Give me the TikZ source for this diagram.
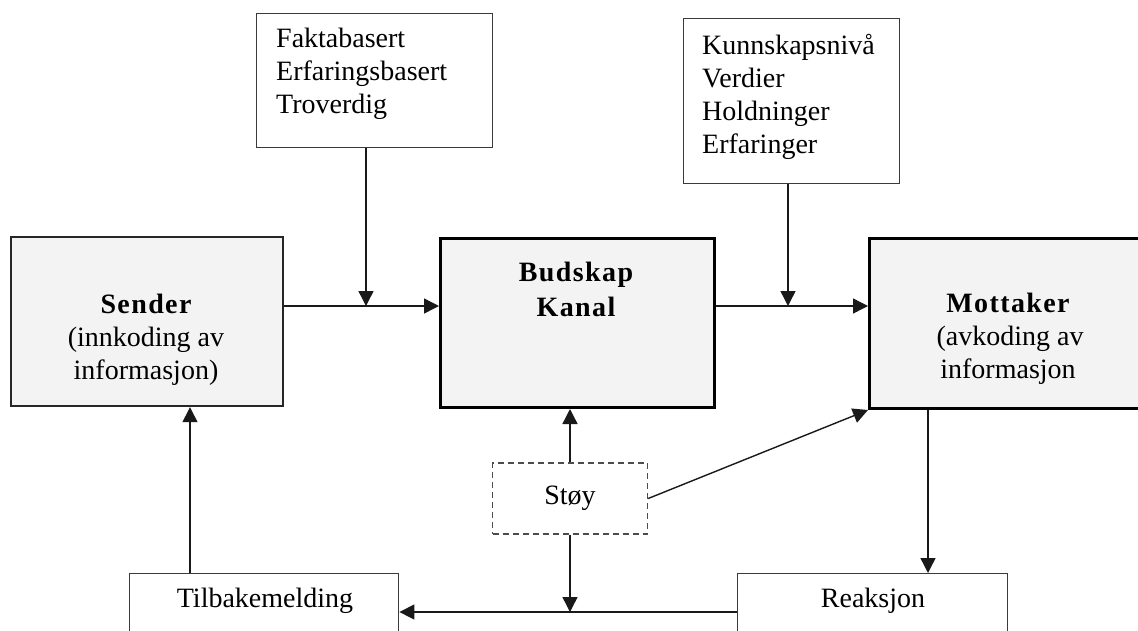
\documentclass[tikz,border=0pt]{standalone}
\usepackage{fontspec}
\setmainfont{Liberation Serif}
\newfontfamily\bsp[LetterSpace=5]{Liberation Serif Bold}
\usetikzlibrary{arrows.meta}
\definecolor{boxfill}{HTML}{F3F3F3}
\definecolor{lightborder}{HTML}{3A3A3A}
\tikzset{
  basebox/.style={rectangle, anchor=north west, inner sep=0pt},
  mainbox/.style={basebox, draw=black, fill=boxfill, line width=3pt},
  sendbox/.style={basebox, draw=black!85, fill=boxfill, line width=2.2pt},
  infobox/.style={basebox, draw=lightborder, fill=white, line width=1.4pt},
  noisebox/.style={rectangle, draw=black!70, dashed, dash pattern=on 6pt off 4pt, line width=1.4pt, fill=white, inner sep=0pt},
  txt/.style={font=\fontsize{28}{33}\selectfont, inner sep=0pt},
  btxt/.style={font=\fontsize{28}{35}\bsp, inner sep=0pt, align=center},
  conn/.style={draw=black!90, line width=1.4pt},
  arr/.style={conn, -{Triangle[length=15pt,width=15pt]}},
}
\begin{document}
\begin{tikzpicture}[x=1pt,y=-1pt]
\useasboundingbox (0,0) rectangle (1138,630);
% boxes
\node[sendbox, minimum width=272pt, minimum height=169pt] (sender) at (10,236) {};
\node[mainbox, minimum width=274pt, minimum height=169pt] (budskap) at (439,237) {};
\node[mainbox, minimum width=280pt, minimum height=170pt] (mottaker) at (868,237) {};
\node[infobox, minimum width=236pt, minimum height=134pt] (fakta) at (256,13) {};
\node[infobox, minimum width=216pt, minimum height=165pt] (kunn) at (683,18) {};
\node[noisebox, minimum width=155pt, minimum height=71pt, txt] (stoy) at (570,498.5) {Støy};
\node[infobox, minimum width=269pt, minimum height=80pt] (tilb) at (129,573) {};
\node[infobox, minimum width=270pt, minimum height=80pt] (reak) at (737,573) {};
% texts
\node[txt, align=center] (sendertxt) at (146,340) {{\fontsize{28}{33}\bsp Sender}\\(innkoding av\\informasjon)};
\node[btxt] (budskaptxt) at (576,289) {Budskap\\Kanal};
\node[txt, align=center] (mottakertxt) at (1008,339) {{\fontsize{28}{33}\bsp Mottaker}\\\hspace*{4pt}(avkoding av\\informasjon};
\node[txt, align=left, anchor=west] (faktatxt) at (276,74) {Faktabasert\\Erfaringsbasert\\Troverdig};
\node[txt, align=left, anchor=west] (kunntxt) at (702,97) {Kunnskapsnivå\\Verdier\\Holdninger\\Erfaringer};
\node[txt] (tilbtxt) at (265,601) {Tilbakemelding};
\node[txt] (reaktxt) at (873,601) {Reaksjon};
% junction coordinates
\coordinate (j1) at (366,306);
\coordinate (j2) at (788,306);
\coordinate (j3) at (570,612);
\coordinate (m1) at (928,0);
\coordinate (t1) at (190,0);
% connectors
\draw[arr] (sender.east |- j1) -- (budskap.west |- j1);
\draw[arr] (j1 |- fakta.south) -- (j1);
\draw[arr] (budskap.east |- j2) -- (mottaker.west |- j2);
\draw[arr] (j2 |- kunn.south) -- (j2);
\draw[arr] (stoy.north) -- (stoy.north |- budskap.south);
\draw[arr] (stoy.east) -- (mottaker.south west);
\draw[arr] (stoy.south) -- (j3);
\draw[arr] (reak.west |- j3) -- (tilb.east |- j3);
\draw[arr] (m1 |- mottaker.south) -- (m1 |- reak.north);
\draw[arr] (t1 |- tilb.north) -- (t1 |- sender.south);
\end{tikzpicture}
\end{document}
